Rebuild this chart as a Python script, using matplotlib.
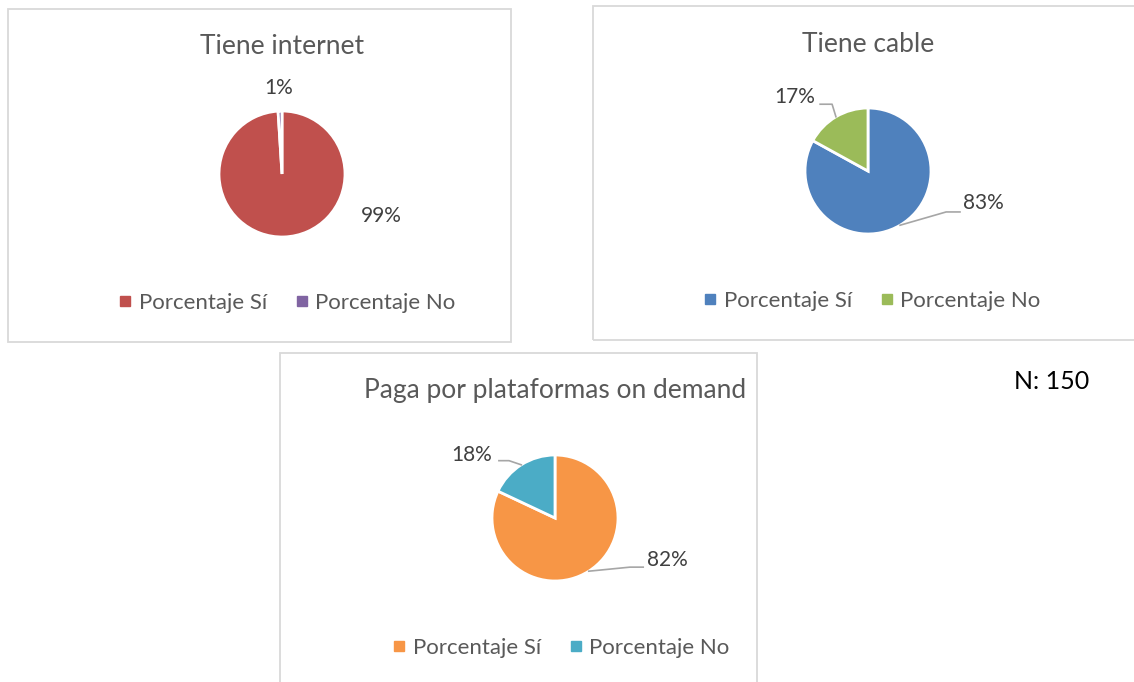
import matplotlib
matplotlib.use("Agg")
import matplotlib.pyplot as plt
from matplotlib.patches import Rectangle
from matplotlib.lines import Line2D
import numpy as np

plt.rcParams['font.family'] = ['Lato', 'DejaVu Sans']

categories = ["Porcentaje Sí", "Porcentaje No"]
titles = ["Tiene internet", "Tiene cable", "Paga por plataformas on demand"]
internet = [99, 1]
cable = [83, 17]
ondemand = [82, 18]
series = [internet, cable, ondemand]
colours = [["#C0504D", "#8064A2"], ["#4F81BD", "#9BBB59"], ["#F79646", "#4BACC6"]]

W, H = 1134, 682

def fbox(x0, y0, x1, y1):
    return [x0 / W, 1 - y1 / H, (x1 - x0) / W, (y1 - y0) / H]

# layout in pixels: panel border, pie centre, title y, legend centre
panels = [
    dict(box=(8, 9, 511, 342), c=(282, 174), title_y=46, leg=(288, 303),
         lab=[(1.57, -0.67), (-0.06, 1.37)], lead=[None, None]),
    dict(box=(593, 6, 1145, 340), c=(868, 171), title_y=44, leg=(873, 301),
         lab=[(1.83, -0.51), (-1.16, 1.17)],
         lead=[((1.24, -0.65), (1.46, -0.65)), ((-0.57, 1.06), (-0.76, 1.06))]),
    dict(box=(280, 353, 757, 690), c=(555, 518), title_y=390, leg=(562, 648),
         lab=[(1.78, -0.67), (-1.33, 1.0)],
         lead=[((1.19, -0.78), (1.40, -0.78)), ((-0.73, 0.91), (-0.89, 0.91))]),
]
r = 63

fig = plt.figure(figsize=(W / 100, H / 100), dpi=100)

for p, vals, cols, title in zip(panels, series, colours, titles):
    x0, y0, x1, y1 = p['box']
    fig.add_artist(Rectangle((x0 / W, 1 - y1 / H), (x1 - x0) / W, (y1 - y0) / H,
                             transform=fig.transFigure, fill=False,
                             ec='#D9D9D9', lw=1.3))
    cx, cy = p['c']
    ax = fig.add_axes(fbox(cx - r, cy - r, cx + r, cy + r))
    wedges, _ = ax.pie(vals, colors=cols, startangle=90, counterclock=False,
                       wedgeprops=dict(edgecolor='white', linewidth=2))
    ax.set_xlim(-1, 1)
    ax.set_ylim(-1, 1)
    ax.axis('off')

    for w, v, pos, lead in zip(wedges, vals, p['lab'], p['lead']):
        ax.text(pos[0], pos[1], f"{v}%", ha='center', va='center',
                fontsize=15, color='#404040')
        if lead is not None:
            mid = np.deg2rad((w.theta1 + w.theta2) / 2)
            pts = np.array([[np.cos(mid), np.sin(mid)], lead[0], lead[1]])
            ax.plot(pts[:, 0], pts[:, 1], color='#A6A6A6', lw=1.2, clip_on=False)

    fig.text(cx / W, 1 - p['title_y'] / H, title, ha='center', va='center',
             fontsize=19, color='#595959')
    handles = [Line2D([], [], marker='s', linestyle='', color=c, markersize=6.5)
               for c in cols]
    lx, ly = p['leg']
    fig.legend(handles, categories, loc='center',
               bbox_to_anchor=(lx / W, 1 - ly / H), ncol=2, frameon=False,
               handlelength=0.42, handletextpad=0.4,
               columnspacing=1.35, fontsize=16, labelcolor='#595959')

fig.text(1052 / W, 1 - 382 / H, "N: 150", ha='center', va='center',
         fontsize=18, color='black')

fig.savefig("out.png", dpi=100)
